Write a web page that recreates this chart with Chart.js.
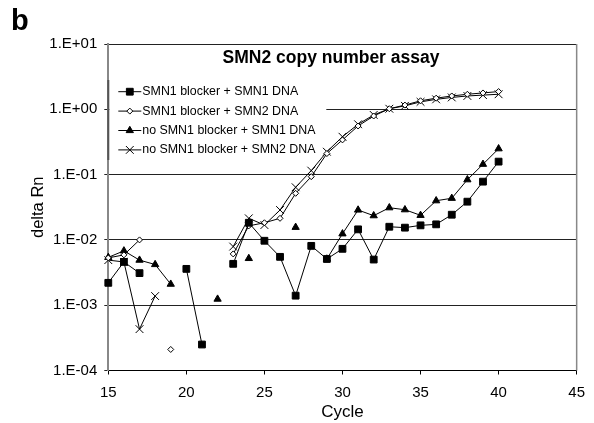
<!DOCTYPE html>
<html>
<head>
<meta charset="utf-8">
<script src="https://cdn.jsdelivr.net/npm/chart.js@4"></script>
<style>
  html, body { margin: 0; padding: 0; background: #fff; }
  #wrap { width: 594px; height: 423px; }
</style>
</head>
<body>
<div id="wrap"><canvas id="chart" width="594" height="423"></canvas></div>
<script>
// --- DATA ---
const cycles = [15, 16, 17, 18, 19, 20, 21, 22, 23, 24, 25, 26, 27, 28, 29, 30, 31, 32, 33, 34, 35, 36, 37, 38, 39, 40];

const blockerSmn1 = [0.0022, 0.0046, 0.0031, null, null, 0.0036, 0.00025, null, 0.0043, 0.0183,
    0.0097, 0.0055, 0.0014, 0.0081, 0.0051, 0.0073, 0.0145, 0.0050, 0.0159, 0.0154,
    0.0167, 0.0173, 0.0243, 0.0385, 0.078, 0.158];

const blockerSmn2 = [0.0053, 0.0059, 0.0100, null, 0.00021, null, null, null, 0.0061, 0.0164,
    0.0183, 0.0214, 0.0517, 0.093, 0.21, 0.34, 0.555, 0.79, 1.02, 1.16,
    1.35, 1.48, 1.60, 1.70, 1.78, 1.87];

const noBlockerSmn1 = [0.0054, 0.0068, 0.0049, 0.0042, 0.0021, null, null, 0.00124, null, 0.0052,
    null, null, 0.0156, null, 0.0051, 0.0124, 0.0287, 0.0235, 0.0311, 0.029,
    0.0238, 0.0398, 0.0434, 0.0835, 0.144, 0.249];

const noBlockerSmn2 = [0.0049, 0.0046, 0.00043, 0.00138, null, null, null, null, 0.0079, 0.0214,
    0.0169, 0.0287, 0.064, 0.115, 0.224, 0.38, 0.59, 0.82, 1.02, 1.13,
    1.30, 1.42, 1.52, 1.60, 1.65, 1.70];

const seriesNames = [
    'SMN1 blocker + SMN1 DNA',
    'SMN1 blocker + SMN2 DNA',
    'no SMN1 blocker + SMN1 DNA',
    'no SMN1 blocker + SMN2 DNA'
];

const yTickValues = [1e-4, 1e-3, 1e-2, 1e-1, 1e0, 1e1];
const yTickLabels = ['1.E-04', '1.E-03', '1.E-02', '1.E-01', '1.E+00', '1.E+01'];

const FONT = '"Liberation Sans", Arial, Helvetica, sans-serif';
Chart.defaults.font.family = FONT;
Chart.defaults.color = '#000';

function points(values) {
    return cycles.map((c, i) => ({ x: c, y: values[i] }));
}

function makeSet(label, values, style, radius, fill) {
    return {
        label: label,
        data: points(values),
        borderColor: '#000',
        borderWidth: 1,
        pointStyle: style,
        pointRadius: radius,
        pointHoverRadius: radius,
        pointBackgroundColor: fill,
        pointBorderColor: '#000',
        pointBorderWidth: 1,
        tension: 0,
        spanGaps: false,
        clip: false
    };
}

// --- PLUGINS ---
// legend box sits inside the plot, over the grid but under the data
const innerLegend = {
    id: 'innerLegend',
    beforeDatasetsDraw(chart) {
        const ctx = chart.ctx;
        const a = chart.chartArea;
        const top = a.top + 36;
        ctx.save();
        ctx.fillStyle = '#fff';
        ctx.fillRect(a.left + 1, top, 217, 80);
        ctx.strokeStyle = '#555';
        ctx.lineWidth = 2;
        ctx.beginPath();
        ctx.moveTo(a.left, top);
        ctx.lineTo(a.left, top + 80);
        ctx.stroke();

        chart.data.datasets.forEach((ds, i) => {
            const y = top + 11.7 + i * 19.4;
            ctx.strokeStyle = '#000';
            ctx.lineWidth = 1;
            ctx.beginPath();
            ctx.moveTo(a.left + 10, y);
            ctx.lineTo(a.left + 33, y);
            ctx.stroke();
            ctx.fillStyle = ds.pointBackgroundColor;
            Chart.helpers.drawPoint(ctx, {
                pointStyle: ds.pointStyle,
                radius: ds.pointRadius,
                borderWidth: 1,
                rotation: 0
            }, a.left + 21.5, y);
            ctx.fillStyle = '#000';
            ctx.font = '12.4px ' + FONT;
            ctx.textAlign = 'left';
            ctx.textBaseline = 'middle';
            ctx.fillText(ds.label, a.left + 34, y);
        });
        ctx.restore();
    }
};

const decorations = {
    id: 'decorations',
    afterDraw(chart) {
        const ctx = chart.ctx;
        const a = chart.chartArea;
        ctx.save();
        // right border of plot
        ctx.strokeStyle = '#888';
        ctx.lineWidth = 1.5;
        ctx.beginPath();
        ctx.moveTo(a.right, a.top);
        ctx.lineTo(a.right, a.bottom);
        ctx.stroke();

        // title inside the plot
        ctx.fillStyle = '#000';
        ctx.font = 'bold 17.5px ' + FONT;
        ctx.textAlign = 'center';
        ctx.textBaseline = 'middle';
        ctx.fillText('SMN2 copy number assay', 331, a.top + 14);

        // panel letter
        ctx.font = 'bold 29px ' + FONT;
        ctx.textAlign = 'left';
        ctx.textBaseline = 'alphabetic';
        ctx.fillText('b', 11, 30);
        ctx.restore();
    }
};

// --- CHART ---
const ctx = document.getElementById('chart').getContext('2d');
const myChart = new Chart(ctx, {
    type: 'line',
    data: {
        datasets: [
            makeSet(seriesNames[0], blockerSmn1, 'rect', 4.8, '#000'),
            makeSet(seriesNames[1], blockerSmn2, 'rectRot', 3, '#fff'),
            makeSet(seriesNames[2], noBlockerSmn1, 'triangle', 4.2, '#000'),
            makeSet(seriesNames[3], noBlockerSmn2, 'crossRot', 5.5, '#000')
        ]
    },
    options: {
        responsive: false,
        animation: false,
        layout: { padding: { top: 44, right: 11.7, bottom: 0, left: 0 } },
        plugins: {
            legend: { display: false },
            tooltip: { enabled: false }
        },
        scales: {
            x: {
                type: 'linear',
                min: 15,
                max: 45,
                ticks: { stepSize: 5, padding: 9, font: { size: 15 } },
                grid: { drawOnChartArea: false, drawTicks: true, tickLength: 4, color: '#000' },
                border: { color: '#000', width: 1 },
                title: { display: true, text: 'Cycle', font: { size: 17 }, padding: { top: 0, bottom: 0 } },
                afterFit(scale) { scale.height = 52.5; }
            },
            y: {
                type: 'logarithmic',
                min: 1e-4,
                max: 10,
                afterBuildTicks(scale) {
                    scale.ticks = yTickValues.map(v => ({ value: v }));
                },
                ticks: {
                    padding: 7,
                    font: { size: 15 },
                    callback: (v, i) => yTickLabels[i]
                },
                grid: { color: '#222', lineWidth: 1, tickLength: 4 },
                border: { color: '#888', width: 2 },
                title: { display: true, text: 'delta Rn', font: { size: 16.5 }, padding: { top: 29, bottom: 0 } },
                afterFit(scale) { scale.width = 108.3; }
            }
        }
    },
    plugins: [innerLegend, decorations]
});
</script>
</body>
</html>
